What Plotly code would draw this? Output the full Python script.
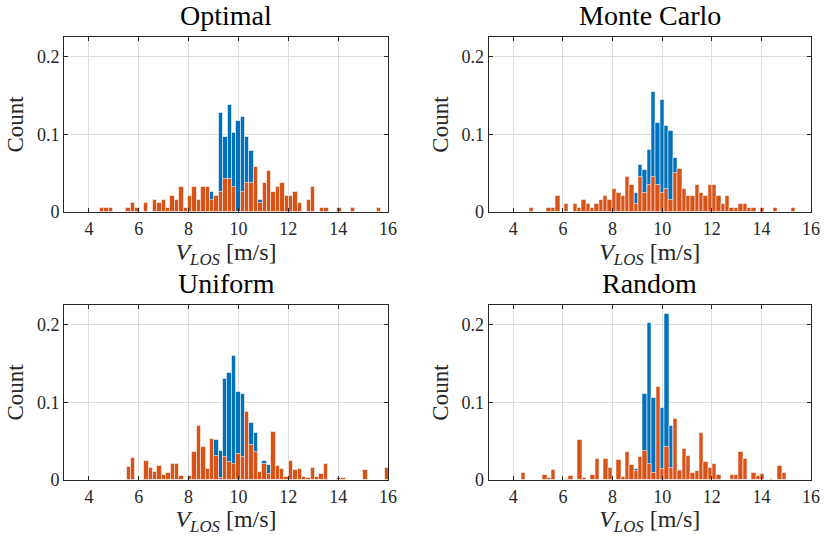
import plotly.graph_objects as go

# ---------------- data (probability per bin) ----------------
TITLES = ["Optimal", "Monte Carlo", "Uniform", "Random"]

# bin layout per panel: centre of first bin, bin width
BIN_START = [4.536, 4.74, 5.605, 4.40]
BIN_WIDTH = [0.1763, 0.1757, 0.1757, 0.1755]

optimal_orange = [0.005, 0.005, 0.005, 0, 0, 0, 0.005, 0.011, 0.005, 0,
                  0.011, 0, 0.016, 0.011, 0.016, 0.005, 0.021, 0.016, 0.032, 0.005,
                  0.021, 0.032, 0.016, 0.032, 0.032, 0.016, 0.021, 0.026, 0.042, 0.042,
                  0.032, 0, 0.026, 0.037, 0.037, 0.058, 0.011, 0.037, 0.053, 0.026,
                  0.032, 0.037, 0.021, 0.021, 0.026, 0.011, 0, 0.016, 0.032, 0,
                  0.005, 0.005, 0, 0, 0.005, 0, 0, 0.005, 0, 0,
                  0, 0, 0, 0.005]
optimal_blue = [0] * 25 + [0.026, 0.021, 0.127, 0.096, 0.138, 0.101, 0.117, 0.122,
                           0.096, 0.079, 0.053, 0.016]

mc_orange = [0.005, 0, 0, 0, 0.005, 0.005, 0.020, 0, 0.010, 0,
             0.010, 0.005, 0.015, 0.010, 0.005, 0.010, 0.015, 0.020, 0.015, 0.030,
             0.025, 0.020, 0.045, 0.035, 0.010, 0.045, 0.025, 0.035, 0.045, 0.035,
             0.025, 0.030, 0.015, 0.050, 0.055, 0.030, 0.020, 0.020, 0.035, 0.025,
             0.020, 0.035, 0.035, 0.020, 0.010, 0.020, 0.005, 0.005, 0.010, 0.010,
             0.005, 0.005, 0, 0.005, 0, 0, 0.005, 0, 0, 0,
             0.005]
mc_blue = [0] * 23 + [0.015, 0.025, 0.060, 0.054, 0.080, 0.154, 0.115, 0.144,
                      0.110, 0.104, 0.070, 0.050]

uniform_orange = [0.017, 0.028, 0, 0, 0.024, 0.015, 0.010, 0.018, 0.006, 0.009,
                  0.021, 0.021, 0.005, 0, 0.005, 0.036, 0.069, 0.042, 0.014, 0.053,
                  0.031, 0.003, 0.030, 0.023, 0.021, 0.034, 0.030, 0.088, 0.045, 0.036,
                  0.010, 0.021, 0.008, 0.062, 0.018, 0.014, 0.004, 0.024, 0.013, 0.014,
                  0.004, 0.003, 0.015, 0.004, 0.008, 0.021, 0, 0, 0.003, 0.003,
                  0, 0, 0, 0, 0.013, 0, 0, 0, 0, 0.016]
uniform_blue = [0] * 19 + [0.010, 0.051, 0.037, 0.130, 0.1375, 0.159, 0.113, 0.110,
                           0.080, 0.073, 0.060, 0.008, 0.025, 0.019]

random_orange = [0.009, 0, 0, 0, 0, 0.007, 0.003, 0.013, 0, 0,
                 0.001, 0.005, 0, 0.051, 0.003, 0, 0.006, 0.027, 0, 0.027,
                 0.016, 0, 0.026, 0.004, 0.036, 0.019, 0.012, 0.029, 0.037, 0.021,
                 0.009, 0.119, 0.014, 0.042, 0.016, 0.078, 0.011, 0.040, 0.031, 0.009,
                 0.012, 0.060, 0.023, 0.016, 0.020, 0.006, 0, 0, 0.006, 0.006,
                 0.036, 0.027, 0, 0.009, 0.005, 0.008, 0, 0.001, 0, 0.018,
                 0.009]
random_blue = [0] * 26 + [0.014, 0, 0.110, 0.202, 0.105, 0.105, 0.092, 0.214,
                          0.069, 0.070, 0.0125]

ORANGE = [optimal_orange, mc_orange, uniform_orange, random_orange]
BLUE = [optimal_blue, mc_blue, uniform_blue, random_blue]

X_TICKS = [4, 6, 8, 10, 12, 14, 16]
Y_TICKS = [0, 0.1, 0.2]
Y_TICK_TEXT = ["0", "0.1", "0.2"]

# ---------------- layout geometry ----------------
W, H = 824, 536
XDOM = [[64 / W, 388 / W], [488.5 / W, 811 / W]]
YDOM = [[1 - 212 / H, 1 - 37 / H], [1 - 480 / H, 1 - 305 / H]]

FONT = "Liberation Serif"
AX_COL = "#262626"
C_BLUE = "#0072BD"
C_ORANGE = "#D95319"

fig = go.Figure()
for i in range(4):
    r, c = divmod(i, 2)
    n = i + 1
    xa = "x" if n == 1 else f"x{n}"
    ya = "y" if n == 1 else f"y{n}"
    w = BIN_WIDTH[i]
    for vals, col, edge in ((BLUE[i], C_BLUE, "rgba(255,255,255,0.55)"),
                            (ORANGE[i], C_ORANGE, "rgba(255,255,255,0.55)")):
        xs = [BIN_START[i] + k * w for k in range(len(vals))]
        fig.add_trace(go.Bar(x=xs, y=vals, width=w, xaxis=xa, yaxis=ya,
                             marker=dict(color=col, line=dict(color=edge, width=1)),
                             showlegend=False, hoverinfo="skip"))
    axcommon = dict(showline=True, linecolor=AX_COL, linewidth=1, mirror="ticks",
                    ticks="inside", ticklen=4, tickwidth=1, tickcolor=AX_COL,
                    showgrid=True, gridcolor="#dcdcdc", gridwidth=1, zeroline=False,
                    tickfont=dict(family=FONT, size=18, color=AX_COL))
    fig.layout[f"xaxis{'' if n == 1 else n}"] = dict(
        axcommon, domain=XDOM[c], anchor=ya, range=[3, 16], tickvals=X_TICKS,
        title=dict(text="<i>V</i><sub><i>LOS</i></sub> [m/s]", standoff=3,
                   font=dict(family=FONT, size=24, color=AX_COL)))
    fig.layout[f"yaxis{'' if n == 1 else n}"] = dict(
        axcommon, domain=YDOM[r], anchor=xa, range=[0, 0.225], tickvals=Y_TICKS,
        ticktext=Y_TICK_TEXT,
        title=dict(text="Count", standoff=6, font=dict(family=FONT, size=23, color=AX_COL)))
    fig.add_annotation(text=TITLES[i], xref="paper", yref="paper",
                       x=(XDOM[c][0] + XDOM[c][1]) / 2, y=YDOM[r][1] + 4 / H,
                       xanchor="center", yanchor="bottom", showarrow=False,
                       font=dict(family=FONT, size=28, color="#000000"))

fig.update_layout(width=W, height=H, autosize=False,
                  margin=dict(l=0, r=0, t=0, b=0, autoexpand=False),
                  barmode="overlay", bargap=0, plot_bgcolor="white",
                  paper_bgcolor="white")
fig.write_html("out.html", config={"responsive": False})
